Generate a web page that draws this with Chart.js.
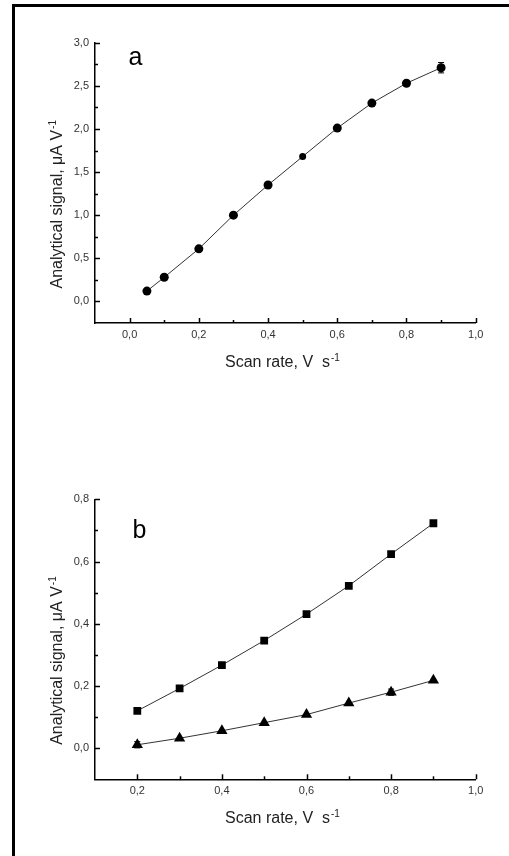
<!DOCTYPE html>
<html>
<head>
<meta charset="utf-8">
<script src="https://cdn.jsdelivr.net/npm/chart.js@4.4.1/dist/chart.umd.min.js"></script>
<style>
    body { margin: 0; background: #fff; }
    #frame { position: absolute; left: 12px; top: 4px; width: 497px; height: 852px; border-top: 3px solid #000; border-left: 3px solid #000; box-sizing: border-box; }
    .box { position: absolute; left: 0; width: 509px; height: 428px; }
    canvas { display: block; }
</style>
</head>
<body>
<div id="frame"></div>
<div class="box" style="top:0"><canvas id="chartA" width="509" height="428"></canvas></div>
<div class="box" style="top:428px"><canvas id="chartB" width="509" height="428"></canvas></div>
<script>
// panel a
const scanRateA = [0.05, 0.1, 0.2, 0.3, 0.4, 0.5, 0.6, 0.7, 0.8, 0.9];
const signalA = [0.12, 0.28, 0.61, 1.0, 1.35, 1.68, 2.01, 2.30, 2.53, 2.71];
const errorA = [0, 0, 0, 0, 0, 0, 0, 0, 0, 0.06];
const xTicksA = [0.0, 0.2, 0.4, 0.6, 0.8, 1.0];
const xMinorA = [0.1, 0.3, 0.5, 0.7, 0.9];
const yTicksA = [0.0, 0.5, 1.0, 1.5, 2.0, 2.5, 3.0];
const yMinorA = [0.25, 0.75, 1.25, 1.75, 2.25, 2.75];

// panel b
const scanRateB = [0.2, 0.3, 0.4, 0.5, 0.6, 0.7, 0.8, 0.9];
const signalSquares = [0.12, 0.192, 0.267, 0.346, 0.431, 0.522, 0.624, 0.723];
const signalTriangles = [0.011, 0.032, 0.056, 0.082, 0.108, 0.145, 0.18, 0.218];
const errorTriangles = [0.01, 0, 0, 0, 0, 0, 0.01, 0];
const xTicksB = [0.2, 0.4, 0.6, 0.8, 1.0];
const xMinorB = [0.3, 0.5, 0.7, 0.9];
const yTicksB = [0.0, 0.2, 0.4, 0.6, 0.8];
const yMinorB = [0.1, 0.3, 0.5, 0.7];

const xTitle = 'Scan rate, V  s';
const yTitle = 'Analytical signal, \u03bcA V';
const titleSup = '-1';

const FONT = '"Liberation Sans", Arial, sans-serif';

function fmt(v) {
    return v.toFixed(1).replace('.', ',');
}

// inward major/minor ticks, axis titles, panel letter and error bars
const decorations = {
    id: 'decorations',
    afterDatasetsDraw(chart) {
        const ctx = chart.ctx;
        const x = chart.scales.x, y = chart.scales.y;
        ctx.save();
        ctx.strokeStyle = '#000';
        ctx.lineWidth = 1;
        chart.data.datasets.forEach(ds => {
            if (!ds.errors) return;
            ds.data.forEach((p, i) => {
                const e = ds.errors[i];
                if (!e) return;
                const px = x.getPixelForValue(p.x);
                const top = y.getPixelForValue(p.y + e);
                const bot = y.getPixelForValue(p.y - e);
                ctx.beginPath();
                ctx.moveTo(px, top); ctx.lineTo(px, bot);
                ctx.moveTo(px - 3, top); ctx.lineTo(px + 3, top);
                ctx.moveTo(px - 3, bot); ctx.lineTo(px + 3, bot);
                ctx.stroke();
            });
        });
        ctx.restore();
    },
    afterDraw(chart, args, opts) {
        const ctx = chart.ctx;
        const x = chart.scales.x, y = chart.scales.y;
        const area = chart.chartArea;
        ctx.save();
        ctx.strokeStyle = '#000';
        ctx.lineWidth = 1.5;
        const tick = (list, len, horiz) => list.forEach(v => {
            ctx.beginPath();
            if (horiz) {
                const px = Math.round(x.getPixelForValue(v)) + 0.5;
                ctx.moveTo(px, area.bottom);
                ctx.lineTo(px, area.bottom - len);
            } else {
                const py = Math.round(y.getPixelForValue(v)) + 0.5;
                ctx.moveTo(area.left, py);
                ctx.lineTo(area.left + len, py);
            }
            ctx.stroke();
        });
        tick(opts.xMajor, 5, true);
        tick(opts.xMinor, 3, true);
        tick(opts.yMajor, 5, false);
        tick(opts.yMinor, 3, false);

        ctx.fillStyle = '#222';
        ctx.textAlign = 'left';
        ctx.textBaseline = 'alphabetic';

        // x title
        ctx.font = '16px ' + FONT;
        const xs = area.left + 130, xb = area.bottom + 43.5;
        ctx.fillText(xTitle, xs, xb);
        let w = ctx.measureText(xTitle).width;
        ctx.font = '10px ' + FONT;
        ctx.fillText(titleSup, xs + w + 1, xb - 6);

        // y title
        ctx.save();
        ctx.translate(area.left - 33, area.bottom - 34.5);
        ctx.rotate(-Math.PI / 2);
        ctx.font = '16px ' + FONT;
        ctx.fillText(yTitle, 0, 0);
        w = ctx.measureText(yTitle).width;
        ctx.font = '10px ' + FONT;
        ctx.fillText(titleSup, w + 1, -6);
        ctx.restore();

        // panel letter
        ctx.font = '25px ' + FONT;
        ctx.fillStyle = '#000';
        ctx.textAlign = 'center';
        ctx.fillText(opts.letter, x.getPixelForValue(opts.letterAt[0]), y.getPixelForValue(opts.letterAt[1]));
        ctx.restore();
    }
};

function makeScales(xMin, xMax, xTicks, yMin, yMax, yTicks) {
    const tickFont = { family: FONT, size: 11 };
    return {
        x: {
            type: 'linear',
            min: xMin,
            max: xMax,
            afterBuildTicks: s => { s.ticks = xTicks.map(v => ({ value: v })); },
            afterFit: s => { s.height = 40; },
            ticks: { callback: v => fmt(v), font: tickFont, color: '#333', padding: 5, maxRotation: 0, autoSkip: false },
            grid: { display: false, drawTicks: false },
            border: { color: '#000', width: 1.5 }
        },
        y: {
            type: 'linear',
            min: yMin,
            max: yMax,
            afterBuildTicks: s => { s.ticks = yTicks.map(v => ({ value: v })); },
            afterFit: s => { s.width = 50; },
            ticks: { callback: v => fmt(v), font: tickFont, color: '#333', padding: 6, autoSkip: false },
            grid: { display: false, drawTicks: false },
            border: { color: '#000', width: 1.5 }
        }
    };
}

function series(xs, ys, errors, style, radius) {
    return {
        data: xs.map((v, i) => ({ x: v, y: ys[i] })),
        errors: errors,
        borderColor: '#333',
        borderWidth: 1,
        backgroundColor: '#000',
        pointBackgroundColor: '#000',
        pointBorderColor: '#000',
        pointBorderWidth: 0,
        pointStyle: style,
        pointRadius: radius,
        tension: 0,
        fill: false
    };
}

const baseOptions = {
    responsive: false,
    animation: false,
    plugins: { legend: { display: false }, tooltip: { enabled: false } }
};

const chartA = new Chart(document.getElementById('chartA'), {
    type: 'line',
    data: {
        datasets: [series(scanRateA, signalA, errorA, 'circle', ctx => ctx.dataIndex === 5 ? 3.5 : 4.5)]
    },
    options: {
        ...baseOptions,
        layout: { autoPadding: false, padding: { left: 45, top: 42.7, right: 33.3, bottom: 65 } },
        scales: makeScales(-0.1, 1.0, xTicksA, -0.25, 3.0, yTicksA),
        plugins: {
            ...baseOptions.plugins,
            decorations: { xMajor: xTicksA, xMinor: xMinorA, yMajor: yTicksA, yMinor: yMinorA, letter: 'a', letterAt: [0.017, 2.74] }
        }
    },
    plugins: [decorations]
});

const chartB = new Chart(document.getElementById('chartB'), {
    type: 'line',
    data: {
        datasets: [
            series(scanRateB, signalSquares, null, 'rect', 5.5),
            series(scanRateB, signalTriangles, errorTriangles, 'triangle', 6.5)
        ]
    },
    options: {
        ...baseOptions,
        layout: { autoPadding: false, padding: { left: 45, top: 71.3, right: 33.3, bottom: 36.7 } },
        scales: makeScales(0.1, 1.0, xTicksB, -0.1, 0.8, yTicksB),
        plugins: {
            ...baseOptions.plugins,
            decorations: { xMajor: xTicksB, xMinor: xMinorB, yMajor: yTicksB, yMinor: yMinorB, letter: 'b', letterAt: [0.205, 0.675] }
        }
    },
    plugins: [decorations]
});
</script>
</body>
</html>
